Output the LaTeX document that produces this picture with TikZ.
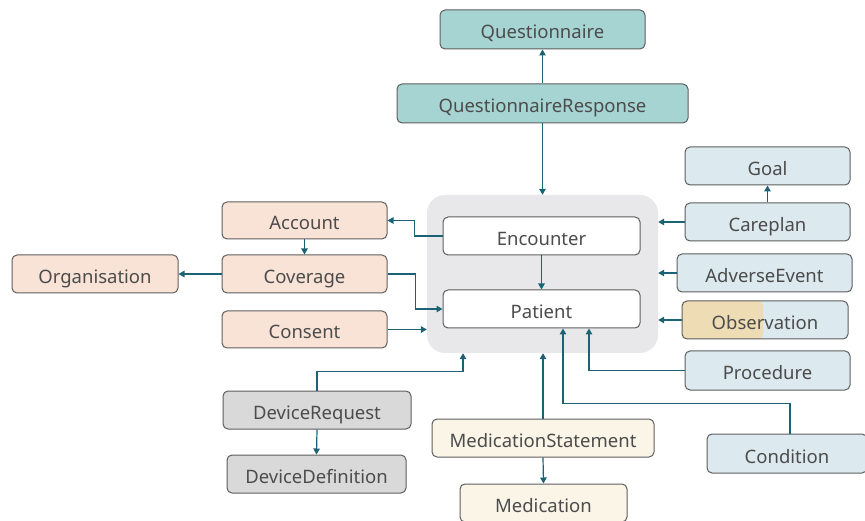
\documentclass[tikz,border=0pt]{standalone}
\usepackage{fontspec}
\setmainfont{Noto Sans}
\usetikzlibrary{calc, positioning}
\usetikzlibrary{arrows.meta}

\definecolor{teal}{HTML}{A6D4D3}
\definecolor{peach}{HTML}{F9E3D6}
\definecolor{paleblue}{HTML}{DCE9EE}
\definecolor{devgray}{HTML}{D9D9D9}
\definecolor{cream}{HTML}{FBF5E8}
\definecolor{tan}{HTML}{EEDDB4}
\definecolor{coregray}{HTML}{E8E7EA}
\definecolor{linkcol}{HTML}{1B6275}
\definecolor{edgecol}{HTML}{5E5E5E}
\definecolor{textcol}{HTML}{4C4C4C}

\tikzset{
  res/.style={draw=edgecol, line width=1pt, rounded corners=5pt, minimum height=38pt,
    inner sep=0pt, text height=20pt, text depth=1pt, text=textcol,
    font=\fontsize{18.5}{22}\selectfont},
  link/.style={draw=linkcol, line width=1.2pt, -{Triangle[length=6pt,width=6.5pt]}}
}

\begin{document}
\begin{tikzpicture}[x=1pt, y=-1pt]
\useasboundingbox (0,0) rectangle (865,521);

% core group
\node[fill=coregray, rounded corners=18pt, minimum width=231pt, minimum height=158pt] (core) at (542.5,274) {};
\node[res, fill=white, minimum width=197pt] (enc) at (541.5,236) {Encounter};
\node[res, fill=white, minimum width=197pt] (pat) at (541.5,309) {Patient};

% questionnaires
\node[res, fill=teal, minimum width=205pt, minimum height=39pt] (quest) at (542.5,29.5) {Questionnaire};
\node[res, fill=teal, minimum width=291pt, minimum height=39pt] (qresp) at (542.5,103.5) {QuestionnaireResponse};

% financial
\node[res, fill=peach, minimum width=165pt, minimum height=37pt] (acc) at (304.5,220.5) {Account};
\node[res, fill=peach, minimum width=165pt] (cov) at (304.5,274) {Coverage};
\node[res, fill=peach, minimum width=165pt, minimum height=37pt] (cons) at (304.5,329.5) {Consent};
\node[res, fill=peach, minimum width=166pt] (org) at (95,274) {Organisation};

% clinical
\node[res, fill=paleblue, minimum width=165pt] (goal) at (767.5,166) {Goal};
\node[res, fill=paleblue, minimum width=165pt] (care) at (767.5,222) {Careplan};
\node[res, fill=paleblue, minimum width=175pt] (adv) at (764.5,273) {AdverseEvent};
\node[res, fill=paleblue, minimum width=166pt,
  path picture={\fill[tan] (path picture bounding box.north west) rectangle ($(path picture bounding box.south west)+(81,0)$);}] (obs) at (765,320) {Observation};
\node[res, fill=paleblue, minimum width=165pt, minimum height=39pt] (proc) at (767.5,370.5) {Procedure};
\node[res, fill=paleblue, minimum width=160pt, minimum height=39pt] (cond) at (787,453.5) {Condition};

% devices and medication
\node[res, fill=devgray, minimum width=188pt] (dreq) at (317,410) {DeviceRequest};
\node[res, fill=devgray, minimum width=179pt] (ddef) at (316.5,474) {DeviceDefinition};
\node[res, fill=cream, minimum width=222pt] (mstat) at (543,438) {MedicationStatement};
\node[res, fill=cream, minimum width=167pt] (med) at (543.5,503) {Medication};

% connectors
\draw[link] (qresp.north) -- (quest.south);
\draw[link] (qresp.south) -- (qresp.south |- core.north);
\draw[link] (enc.south) -- (pat.north);
\draw[link] (enc.west) -- ++(-28,0) |- (acc.east);
\draw[link] (acc.south) -- (cov.north);
\draw[link] (cov.west) -- (org.east);
\draw[link] (cov.east) -- ++(28,0) |- (pat.west);
\draw[link] (cons.east) -- (cons.east -| core.west);
\draw[link] (care.north) -- (goal.south);
\draw[link] (care.west) -- (care.west -| core.east);
\draw[link] (adv.west) -- (adv.west -| core.east);
\draw[link] (obs.west) -- (obs.west -| core.east);
\draw[link] (proc.west) -| ([xshift=47.5pt]pat.south);
\draw[link] ([xshift=3pt]cond.north) -- ++(0,-30) -| ([xshift=21.5pt]pat.south);
\draw[link] (dreq.north) -- ++(0,-19) -| ([xshift=-79.5pt]core.south);
\draw[link] (dreq.south) -- (ddef.north);
\draw[link] (mstat.north) -- (mstat.north |- core.south);
\draw[link] (mstat.south) -- (med.north);

\end{tikzpicture}
\end{document}
